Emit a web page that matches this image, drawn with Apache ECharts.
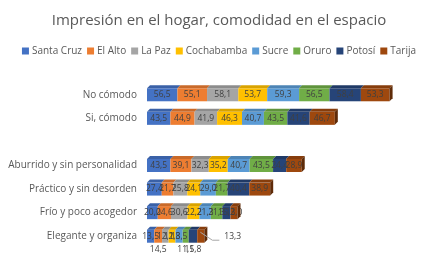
<!DOCTYPE html>
<html>
<head>
<meta charset="utf-8">
<script src="https://cdn.jsdelivr.net/npm/echarts@6/dist/echarts.min.js"></script>
<style>
  html, body { margin: 0; padding: 0; background: #fff; }
  #chart { width: 438px; height: 264px; }
</style>
</head>
<body>
<div id="chart"></div>
<script>
var categories = ['No cómodo', 'Si, cómodo', '', 'Aburrido y sin personalidad',
  'Práctico y sin desorden', 'Frío y poco acogedor', 'Elegante y organiza'];
var cities = ['Santa Cruz', 'El Alto', 'La Paz', 'Cochabamba', 'Sucre', 'Oruro', 'Potosí', 'Tarija'];

var santaCruz  = [56.5, 43.5, null, 43.5, 27.4, 20.0, 13.5];
var elAlto     = [55.1, 44.9, null, 39.1, 21.7, 24.6, 14.5];
var laPaz      = [58.1, 41.9, null, 32.3, 25.8, 30.6, 12.1];
var cochabamba = [53.7, 46.3, null, 35.2, 24.1, 22.2, 12.8];
var sucre      = [59.3, 40.7, null, 40.7, 29.0, 21.3, 13.5];
var oruro      = [56.5, 43.5, null, 43.5, 21.7, 21.3, 11.1];
var potosi     = [58.4, 41.6, null, 24.4, 40.4, 15.2, 15.8];
var tarija     = [53.3, 46.7, null, 28.9, 38.9, 13.0, 13.3];

var values = [santaCruz, elAlto, laPaz, cochabamba, sucre, oruro, potosi, tarija];
var colors = ['#4472C4', '#ED7D31', '#A5A5A5', '#FFC000', '#5B9BD5', '#70AD47', '#264478', '#9E480E'];

function shade(hex, k) {
  var n = parseInt(hex.slice(1), 16);
  var r = Math.round(((n >> 16) & 255) * k), g = Math.round(((n >> 8) & 255) * k), b = Math.round((n & 255) * k);
  return 'rgb(' + r + ',' + g + ',' + b + ')';
}
function fmt(v) { return v.toFixed(1).replace('.', ','); }

var BAR_H = 13, DEPTH = 3;
var series = [];

// front faces: plain stacked bars
values.forEach(function (arr, ci) {
  series.push({
    name: cities[ci],
    type: 'bar',
    stack: 'total',
    barWidth: BAR_H,
    itemStyle: { color: colors[ci] },
    label: {
      show: true, position: 'inside', fontSize: 8.5, color: '#404040',
      fontFamily: 'Open Sans',
      formatter: function (p) { return p.value == null ? '' : fmt(p.value); }
    },
    data: arr.map(function (v, i) {
      // last row: small slices get their labels moved out, like the original
      if (i === 6 && (ci === 1 || ci === 5 || ci === 6)) {
        return { value: v, label: { position: 'bottom', distance: 2 } };
      }
      if (i === 6 && ci === 7) {
        return { value: v, label: { position: 'right', distance: 20 } };
      }
      return v;
    })
  });
});

// 3D top / right faces, from the same cumulative values
var faceData = [];
categories.forEach(function (c, i) {
  var acc = 0;
  values.forEach(function (arr, ci) {
    if (arr[i] == null) return;
    faceData.push([acc, acc + arr[i], i, ci, ci === values.length - 1 ? 1 : 0]);
    acc += arr[i];
  });
});

series.push({
  type: 'custom',
  silent: true,
  z: 3,
  data: faceData,
  encode: { x: [0, 1], y: 2 },
  renderItem: function (params, api) {
    var p0 = api.coord([api.value(0), api.value(2)]);
    var p1 = api.coord([api.value(1), api.value(2)]);
    var col = colors[api.value(3)];
    var top = p0[1] - BAR_H / 2;
    var kids = [{
      type: 'polygon',
      shape: { points: [[p0[0], top], [p1[0], top], [p1[0] + DEPTH, top - DEPTH], [p0[0] + DEPTH, top - DEPTH]] },
      style: { fill: shade(col, 0.85) }
    }];
    if (api.value(4)) {
      kids.push({
        type: 'polygon',
        shape: { points: [[p1[0], top], [p1[0] + DEPTH, top - DEPTH], [p1[0] + DEPTH, top - DEPTH + BAR_H], [p1[0], top + BAR_H]] },
        style: { fill: shade(col, 0.6) }
      });
      if (api.value(2) === 6) {
        // leader line to the outside label
        kids.push({
          type: 'line',
          shape: { x1: p1[0] - 4, y1: p0[1] - 4, x2: p1[0] + 8, y2: p0[1] + 4 },
          style: { stroke: '#a6a6a6', lineWidth: 1 }
        });
        kids.push({
          type: 'line',
          shape: { x1: p1[0] + 8, y1: p0[1] + 4, x2: p1[0] + 15, y2: p0[1] + 4 },
          style: { stroke: '#a6a6a6', lineWidth: 1 }
        });
      }
    }
    return { type: 'group', children: kids };
  }
});

var chart = echarts.init(document.getElementById('chart'));
chart.setOption({
  animation: false,
  title: {
    text: 'Impresión en el hogar, comodidad en el espacio',
    left: 'center', top: 8,
    textStyle: { fontFamily: 'Open Sans', fontSize: 15, fontWeight: 'normal', color: '#595959' }
  },
  legend: {
    data: cities,
    top: 41, left: 'center',
    itemWidth: 7, itemHeight: 7, itemGap: 5,
    icon: 'rect',
    textStyle: { fontFamily: 'Open Sans', fontSize: 10, color: '#595959', padding: [0, 0, 0, -2] }
  },
  grid: { left: 147, right: 22, top: 83, bottom: 16 },
  xAxis: { type: 'value', min: 0, max: 500, show: false },
  yAxis: {
    type: 'category', data: categories, inverse: true,
    axisLine: { show: false }, axisTick: { show: false },
    axisLabel: { fontFamily: 'Open Sans', fontSize: 10, color: '#595959', margin: 10 }
  },
  series: series
});
window.addEventListener('resize', function () { chart.resize(); });
</script>
</body>
</html>
